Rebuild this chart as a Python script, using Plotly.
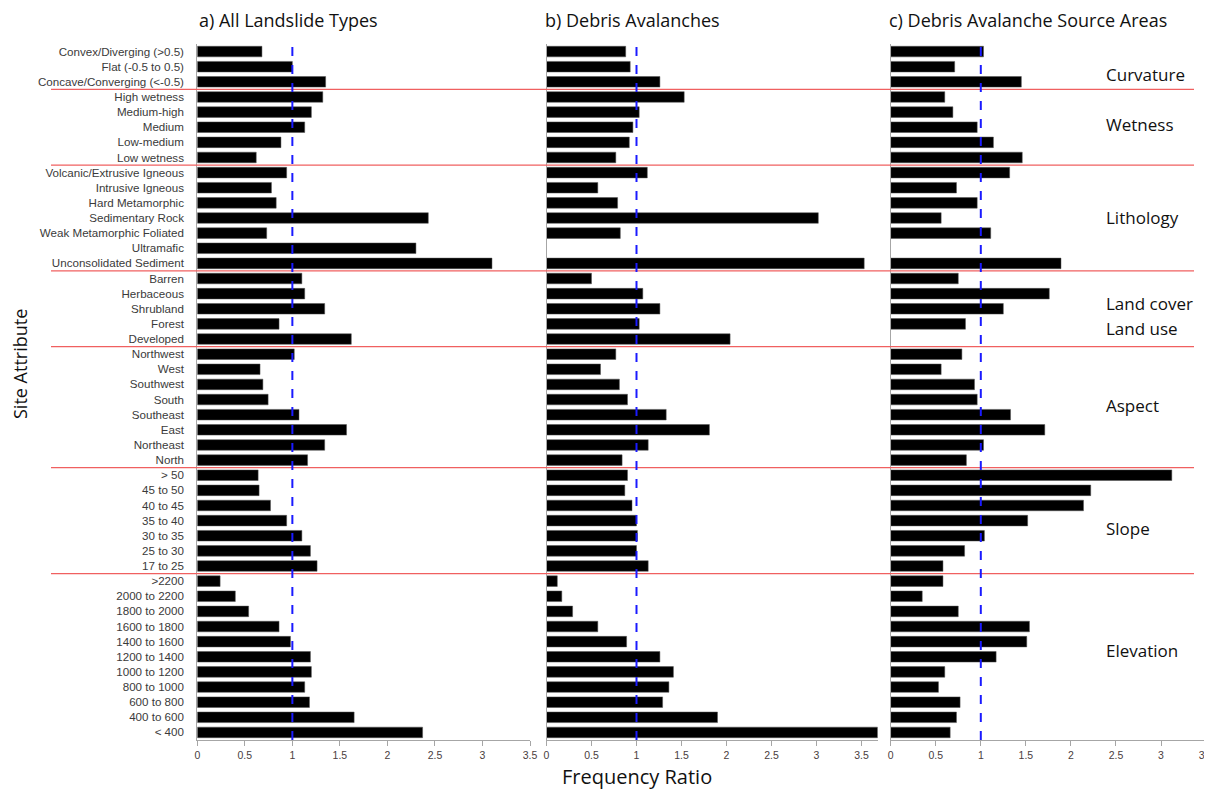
import plotly.graph_objects as go

categories = [
    "Convex/Diverging (>0.5)", "Flat (-0.5 to 0.5)", "Concave/Converging (<-0.5)",
    "High wetness", "Medium-high", "Medium", "Low-medium", "Low wetness",
    "Volcanic/Extrusive Igneous", "Intrusive Igneous", "Hard Metamorphic", "Sedimentary Rock",
    "Weak Metamorphic Foliated", "Ultramafic", "Unconsolidated Sediment",
    "Barren", "Herbaceous", "Shrubland", "Forest", "Developed",
    "Northwest", "West", "Southwest", "South", "Southeast", "East", "Northeast", "North",
    "> 50", "45 to 50", "40 to 45", "35 to 40", "30 to 35", "25 to 30", "17 to 25",
    ">2200", "2000 to 2200", "1800 to 2000", "1600 to 1800", "1400 to 1600", "1200 to 1400",
    "1000 to 1200", "800 to 1000", "600 to 800", "400 to 600", "< 400",
]

fr_all_landslides = [
    0.68, 1.00, 1.35,
    1.32, 1.20, 1.13, 0.88, 0.62,
    0.94, 0.78, 0.83, 2.43, 0.73, 2.30, 3.10,
    1.10, 1.13, 1.34, 0.86, 1.62,
    1.02, 0.66, 0.69, 0.745, 1.07, 1.57, 1.34, 1.16,
    0.64, 0.65, 0.77, 0.94, 1.10, 1.19, 1.26,
    0.24, 0.40, 0.54, 0.86, 0.98, 1.19, 1.20, 1.13, 1.18, 1.65, 2.37,
]

fr_debris_avalanches = [
    0.88, 0.93, 1.26,
    1.53, 1.03, 0.96, 0.92, 0.77,
    1.12, 0.57, 0.79, 3.02, 0.82, None, 3.53,
    0.50, 1.07, 1.26, 1.03, 2.04,
    0.77, 0.60, 0.81, 0.90, 1.33, 1.81, 1.13, 0.84,
    0.90, 0.87, 0.95, 1.00, 1.01, 1.00, 1.13,
    0.12, 0.17, 0.29, 0.57, 0.89, 1.26, 1.41, 1.36, 1.29, 1.90, 3.68,
]

fr_source_areas = [
    1.03, 0.71, 1.45,
    0.60, 0.69, 0.96, 1.14, 1.46,
    1.32, 0.73, 0.96, 0.56, 1.11, None, 1.89,
    0.75, 1.76, 1.25, 0.83, None,
    0.79, 0.56, 0.93, 0.96, 1.33, 1.71, 1.03, 0.84,
    3.12, 2.22, 2.14, 1.52, 1.04, 0.82, 0.58,
    0.58, 0.35, 0.75, 1.54, 1.51, 1.17, 0.60, 0.53, 0.77, 0.73, 0.66,
]

panel_titles = ["a) All Landslide Types", "b) Debris Avalanches", "c) Debris Avalanche Source Areas"]
group_names = ["Curvature", "Wetness", "Lithology", "Land cover", "Land use", "Aspect", "Slope", "Elevation"]
group_breaks = [2.5, 7.5, 14.5, 19.5, 27.5, 34.5]
x_ticks = [0, 0.5, 1, 1.5, 2, 2.5, 3, 3.5]
x_tick_text = ["0", "0.5", "1", "1.5", "2", "2.5", "3", "3.5"]

W, H = 1212, 793
OFF = 8  # page body margin offset
def px(x):
    return (x - OFF) / W
def py(y):
    return 1 - (y - OFF) / H

series = [fr_all_landslides, fr_debris_avalanches, fr_source_areas]
xdomains = [[px(197.3), px(530)], [px(546.5), px(877.7)], [px(890.7), px(1206.5)]]
xranges = [[0, 3.5], [0, 3.68], [0, 3.505]]
ydomain = [py(740), py(44)]

fig = go.Figure()
for i, vals in enumerate(series):
    sfx = "" if i == 0 else str(i + 1)
    fig.add_trace(go.Bar(
        x=vals, y=categories, orientation="h",
        xaxis="x" + sfx, yaxis="y" + sfx,
        marker=dict(color="black", line=dict(color="#555555", width=0.5)),
        showlegend=False,
    ))

layout = dict(
    width=W, height=H,
    margin=dict(l=0, r=0, t=0, b=0),
    plot_bgcolor="white", paper_bgcolor="white",
    bargap=0.3,
    font=dict(family="Liberation Sans, Arial", color="#333333"),
)
font_tick = dict(family="Liberation Sans, Arial", size=10.5, color="#4a4040")
for i in range(3):
    sfx = "" if i == 0 else str(i + 1)
    layout["xaxis" + sfx] = dict(
        domain=xdomains[i], range=xranges[i], anchor="y" + sfx,
        tickvals=x_ticks, ticktext=x_tick_text,
        showgrid=False, zeroline=False,
        showline=True, linecolor="#a6a6a6", linewidth=1,
        ticks="outside", ticklen=5, tickcolor="#a6a6a6",
        tickfont=font_tick, automargin=False, fixedrange=True,
    )
    layout["yaxis" + sfx] = dict(
        domain=ydomain, anchor="x" + sfx,
        type="category", categoryorder="array", categoryarray=categories,
        range=[len(categories) - 0.5, -0.5],
        showgrid=False, zeroline=False,
        showline=True, linecolor="#a6a6a6", linewidth=1,
        ticks="", showticklabels=(i == 0),
        tickfont=dict(family="Liberation Sans, Arial", size=11.6, color="#3a3a3a"),
        ticklabelstandoff=10, automargin=False, fixedrange=True,
    )
fig.update_layout(**layout)

shapes = []
for yb in group_breaks:
    shapes.append(dict(type="line", xref="paper", yref="y", x0=px(51), x1=px(1194),
                       y0=yb, y1=yb, line=dict(color="#f06060", width=1.3)))
for i in range(3):
    sfx = "" if i == 0 else str(i + 1)
    shapes.append(dict(type="line", xref="x" + sfx, yref="y" + sfx + " domain",
                       x0=1, x1=1, y0=0, y1=1,
                       line=dict(color="#1a1aff", width=2, dash="dash")))
fig.update_layout(shapes=shapes)

annots = []
title_x = [197, 543, 887]
for t, x in zip(panel_titles, title_x):
    annots.append(dict(text=t, x=px(x), y=py(20), xref="paper", yref="paper",
                       xanchor="left", yanchor="middle", showarrow=False,
                       font=dict(family="Open Sans", size=18, color="#111111")))
group_y = [75, 125, 217, 303, 328, 405, 528, 650]
for g, y in zip(group_names, group_y):
    annots.append(dict(text=g, x=px(1104), y=py(y), xref="paper", yref="paper",
                       xanchor="left", yanchor="middle", showarrow=False,
                       font=dict(family="Open Sans", size=17, color="#111111")))
annots.append(dict(text="Site Attribute", x=px(20), y=py(364), xref="paper", yref="paper",
                   textangle=-90, xanchor="center", yanchor="middle", showarrow=False,
                   font=dict(family="Open Sans", size=18, color="#111111")))
annots.append(dict(text="Frequency Ratio", x=px(637), y=py(776), xref="paper", yref="paper",
                   xanchor="center", yanchor="middle", showarrow=False,
                   font=dict(family="Open Sans", size=20, color="#111111")))
fig.update_layout(annotations=annots)

fig.write_html("out.html")
